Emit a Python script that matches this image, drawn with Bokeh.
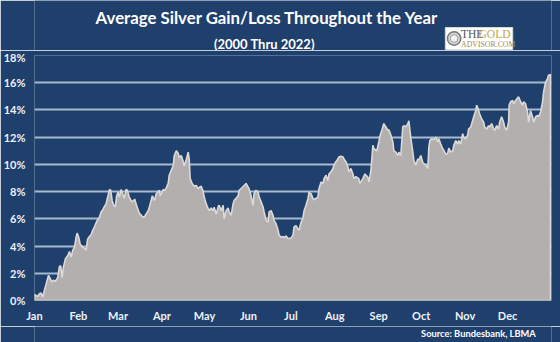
from bokeh.plotting import figure
from bokeh.layouts import column
from bokeh.models import FixedTicker, PrintfTickFormatter, Range1d
from bokeh.core.properties import value
from bokeh.embed import file_html
from bokeh.resources import INLINE

# Day of year (calendar) and average cumulative gain (%)
day = [0.0, 1.2, 2.3, 3.5, 4.7, 5.8, 7.0, 8.2, 9.9, 11.1, 12.5, 13.4, 14.8, 16.4, 17.6, 18.5,
       19.5, 20.4, 21.8, 23.5, 24.7, 25.9, 27.0, 28.2, 29.4, 30.1, 31.2, 32.2, 33.6, 35.2, 36.4,
       37.5, 38.8, 40.0, 41.1, 42.3, 43.5, 44.6, 45.8, 47.0, 48.1, 49.3, 50.5, 51.7, 52.9, 53.8,
       54.8, 55.9, 57.1, 58.0, 59.0, 59.9, 61.1, 62.2, 63.4, 64.6, 65.5, 66.9, 68.1, 69.3, 70.7,
       71.7, 72.8, 74.0, 75.9, 77.5,
       78.2, 80.3, 81.7, 83.2, 84.6, 86.0, 88.1, 88.8, 90.9, 92.3, 94.4, 95.1, 96.5, 97.9, 98.7,
       100.1, 101.5, 102.2, 103.6, 105.0, 105.7, 107.1, 108.5, 109.2, 109.9, 111.3, 112.8, 114.2,
       115.6, 116.3, 117.7, 119.1, 119.8, 121.2, 122.6, 123.3, 124.7, 126.1, 126.8, 128.3, 129.7,
       130.4, 131.8, 133.2, 133.9, 135.3, 136.7, 137.4, 138.8, 140.2, 140.9, 142.3, 143.8, 144.5,
       146.6, 148.0, 149.4, 151.5, 152.9, 154.3, 155.0, 156.4, 157.9, 158.6, 160.0, 161.4, 162.1,
       163.5, 164.9, 165.6, 167.0, 168.4, 169.1, 170.5, 172.0, 172.7, 174.1, 175.5, 176.2, 177.6,
       179.0, 179.7, 181.1, 182.5, 183.2, 184.6, 186.0, 186.7, 188.2, 189.6, 190.3, 191.7, 193.1,
       193.8, 195.2, 196.6, 197.3, 198.7, 200.1, 200.8, 202.3, 203.7, 204.4, 205.8, 207.2, 207.9,
       209.3, 210.7, 211.4, 212.8, 214.2, 214.9, 216.3, 217.8, 218.5, 219.9, 221.3, 222.0, 223.4,
       224.8, 225.5, 226.9, 229.0, 229.7, 231.8, 233.3, 235.4, 236.1, 237.5, 238.9, 239.6, 241.7,
       243.1, 243.8, 245.2, 246.6, 248.1, 249.5, 250.2, 251.6, 253.0, 253.7, 255.1, 256.5, 257.2,
       258.6, 260.0, 260.7, 262.1, 263.6, 264.3, 265.7, 267.1, 267.8, 269.2, 270.6, 271.3, 272.7,
       274.1, 274.8, 276.2, 277.7, 278.4, 279.1, 280.5, 281.9, 283.3, 284.7, 285.4, 286.8, 288.2,
       288.9, 290.3, 291.7, 292.5, 293.9, 295.3, 296.0, 297.4, 298.8, 299.5, 300.9, 302.3, 303.0,
       304.4, 305.8, 306.5, 308.0, 309.4, 310.1, 311.5, 312.2, 313.6, 314.3, 315.7, 317.1, 317.8,
       319.2, 320.6, 321.3, 322.8, 324.2, 324.9, 326.3, 327.7, 328.4, 329.8, 331.2, 331.9, 333.3,
       334.7, 335.1, 336.1, 337.6, 338.3, 339.7, 341.1, 341.8, 343.2, 344.6, 345.3, 346.7, 348.1,
       348.8, 350.2, 351.6, 352.4, 353.8, 355.2, 355.9, 357.3, 358.7, 359.4, 360.8, 362.2, 362.9,
       364.3]

gain = [0.45, 0.35, 0.3, 0.5, 0.55, 0.25, 0.75, 1.2, 1.85, 1.6, 1.35, 1.5, 1.4, 1.7, 2.5, 2.55,
        1.7, 2.45, 3.05, 3.3, 3.6, 3.2, 3.7, 3.9, 4.65, 4.95, 4.65, 4.15, 3.95, 3.85, 3.7,
        4.5, 4.7, 4.85, 5.15, 5.4, 5.7, 5.95, 6.1, 6.5, 6.65, 6.9, 7.1, 7.6, 8.15, 8.1,
        7.35, 7.0, 6.9, 7.7, 7.95, 7.6, 8.15, 7.85, 7.5, 8.15, 8.1, 7.6, 7.35, 7.25, 7.45,
        7.1, 6.75, 6.4, 6.2, 6.1,
        6.25, 6.6, 7.1, 7.7, 7.35, 7.85, 8.1, 7.7, 8.15, 8.1, 8.6, 9.2, 9.55, 9.9, 10.65,
        11.0, 10.8, 10.5, 10.65, 10.2, 9.9, 10.35, 10.9, 10.4, 8.95, 8.6, 8.4, 8.45,
        8.2, 8.3, 8.4, 8.0, 7.6, 7.1, 6.75, 6.6, 6.8, 6.6, 6.85, 6.35, 6.9,
        7.0, 6.6, 7.0, 6.0, 6.6, 6.8, 6.5, 6.25, 7.1, 7.35, 7.5, 7.7, 8.1,
        8.3, 8.45, 8.6, 8.2, 7.7, 7.0, 7.85, 8.1, 7.95, 7.6, 7.25, 6.85, 6.5,
        5.9, 5.75, 6.5, 6.6, 6.25, 5.9, 5.65, 5.15, 4.8, 4.65, 4.7, 4.6, 4.75,
        4.55, 4.55, 4.6, 4.8, 5.4, 5.5, 5.25, 5.15, 5.75, 6.1, 6.6, 7.0, 7.5,
        7.95, 7.85, 7.5, 7.4, 7.5, 7.6, 8.2, 8.7, 8.6, 8.95, 9.2, 8.8, 9.3,
        9.45, 9.7, 9.95, 10.2, 10.4, 10.55, 10.6, 10.55, 10.4, 10.2, 9.8, 9.45, 9.7,
        9.3, 8.95, 9.1, 8.95, 8.6, 8.95, 9.3, 9.05, 8.7, 9.55, 11.4, 11.15, 11.0,
        11.65, 12.05, 12.5, 13.0, 12.75, 12.5, 12.55, 12.15, 11.65, 11.0, 10.9, 10.65, 10.9,
        10.65, 12.75, 12.85, 12.75, 13.0, 13.2, 11.9, 10.9, 10.3, 9.95, 10.4, 10.3, 10.65,
        10.15, 10.05, 9.95, 9.7, 11.25, 11.75, 11.9, 11.8, 12.0, 11.65, 11.9, 11.5, 11.15,
        11.05, 10.75, 10.8, 11.2, 10.9, 11.0, 11.4, 11.75, 11.5, 11.75, 11.5, 12.25, 12.0,
        11.9, 12.15, 12.6, 12.75, 13.25, 13.5, 13.95, 14.35, 13.95, 13.7, 13.35, 13.1, 12.75,
        12.6, 12.85, 12.75, 13.0, 12.6, 12.5, 12.85, 12.6, 13.1, 13.5, 13.1, 12.75, 12.5,
        13.1, 14.35, 14.6, 14.7, 14.45, 14.7, 14.9, 14.95, 14.6, 14.35, 14.6, 14.45, 13.85,
        13.1, 13.95, 13.5, 13.1, 13.5, 13.6, 13.5, 13.85, 14.6, 15.3, 16.05, 16.3, 16.55,
        16.6]

month_start = [0, 31, 59, 90, 120, 151, 181, 212, 243, 273, 304, 334]
month_names = ["Jan", "Feb", "Mar", "Apr", "May", "Jun", "Jul", "Aug", "Sep", "Oct", "Nov", "Dec"]
y_ticks = [0, 2, 4, 6, 8, 10, 12, 14, 16, 18]

title_text = "Average Silver Gain/Loss Throughout the Year"
subtitle_text = "(2000 Thru 2022)"
source_text = "Source: Bundesbank, LBMA"

BG = "#1f3f6c"
FONT = "Lato"


def deco_figure(h):
    f = figure(width=560, height=h, output_backend="svg", toolbar_location=None,
               x_range=Range1d(0, 560), y_range=Range1d(h, 0),
               x_axis_type=None, y_axis_type=None, min_border=0)
    f.background_fill_color = BG
    f.border_fill_color = BG
    f.outline_line_color = None
    f.grid.visible = False
    return f


# ---- header: title, subtitle, logo (pixel layout) ----
head = deco_figure(50)
head.text(x=[252], y=[17], text=[title_text], text_align="center", text_baseline="middle",
          text_color="white", text_font=value(FONT), text_font_style="bold", text_font_size="16.8px")
head.text(x=[249], y=[43], text=[subtitle_text], text_align="center", text_baseline="middle",
          text_color="white", text_font=value(FONT), text_font_style="bold", text_font_size="13px")
head.quad(left=[445], right=[518], top=[27], bottom=[49], fill_color="white", line_color="#d8d8d8")
head.circle(x=[454.5], y=[38], radius=7.2, fill_color="#d8d8d8", line_color="#7a7a7a", line_width=1.5)
head.circle(x=[454.5], y=[38], radius=4.2, fill_color="#f2f2f2", line_color="#9a9a9a", line_width=1)
head.text(x=[462], y=[33], text=["THE"], text_align="left", text_baseline="middle",
          text_color="#555555", text_font=value("Liberation Serif"), text_font_size="11.5px")
head.text(x=[481], y=[33], text=["GOLD"], text_align="left", text_baseline="middle",
          text_color="#c8a24a", text_font=value("Liberation Serif"), text_font_size="11.5px")
head.text(x=[462], y=[43.5], text=["ADVISOR.COM"], text_align="left", text_baseline="middle",
          text_color="#a88a4a", text_font=value("Liberation Serif"), text_font_size="7.8px")

# ---- main chart ----
p = figure(width=560, height=276, output_backend="svg", toolbar_location=None,
           x_range=Range1d(0, 365), y_range=Range1d(0, 18),
           min_border_left=33, min_border_right=9, min_border_top=5, min_border_bottom=26)
p.background_fill_color = BG
p.border_fill_color = BG
p.outline_line_color = None

for ax in (p.xaxis[0], p.yaxis[0]):
    ax.axis_line_color = None
    ax.major_tick_line_color = None
    ax.minor_tick_line_color = None
    ax.major_tick_in = 0
    ax.major_tick_out = 0
    ax.major_label_text_color = "#eef2f7"
    ax.major_label_text_font = FONT
    ax.major_label_text_font_style = "bold"
    ax.major_label_text_font_size = "11px"

p.xaxis.ticker = FixedTicker(ticks=month_start)
p.xaxis.major_label_overrides = {m: n for m, n in zip(month_start, month_names)}
p.xaxis.major_label_standoff = 8
p.yaxis.ticker = FixedTicker(ticks=y_ticks)
p.yaxis.formatter = PrintfTickFormatter(format="%d%%")
p.yaxis.major_label_standoff = 9

p.xgrid.visible = False
p.ygrid.ticker = FixedTicker(ticks=y_ticks)
p.ygrid.grid_line_color = "#a8bad0"
p.ygrid.grid_line_width = 2

xs = [day[0]] + day + [day[-1]]
ys = [0] + gain + [0]
p.patch(xs, ys, fill_color="#b4afaf", line_color="#dcd9d9", line_width=1.6)

# ---- footer: source ----
foot = deco_figure(16)
foot.text(x=[543], y=[7], text=[source_text], text_align="right", text_baseline="middle",
          text_color="white", text_font=value(FONT), text_font_style="bold", text_font_size="9.3px")

layout = column(head, p, foot, spacing=0)
open("out.html", "w").write(file_html(layout, INLINE))
